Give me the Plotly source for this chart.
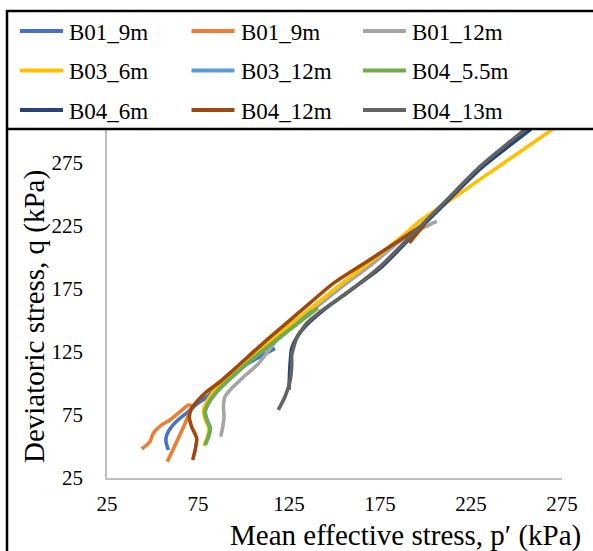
import plotly.graph_objects as go

# ---------------- data ----------------
names = ["B01_9m", "B01_9m", "B01_12m", "B03_6m", "B03_12m",
         "B04_5.5m", "B04_6m", "B04_12m", "B04_13m"]
colors = ["#4472C4", "#ED7D31", "#A5A5A5", "#FFC000", "#5B9BD5",
          "#70AD47", "#264478", "#9E480E", "#636363"]

b01_9m_a_p = [58.7, 57.4, 57.8, 60.5, 65.1, 69.7, 74.3, 79.8, 87.1, 98.1, 109.1, 117.3]
b01_9m_a_q = [47.2, 53.8, 59.1, 65.7, 72.4, 77.6, 83.7, 89.3, 98.8, 112.1, 121.3, 127.9]

b01_9m_b_p = [44.1, 48.6, 50.4, 55.1, 59.6, 65.1, 69.7, 71.5, 67.9, 63.3, 58.1]
b01_9m_b_q = [48.0, 53.8, 60.5, 67.1, 71.0, 77.6, 82.9, 82.1, 68.4, 53.8, 37.9]

b01_12m_p = [87.5, 88.6, 89.3, 89.0, 89.8, 93.5, 99.5, 108.0, 120.1, 136.5, 153.0, 170.0, 186.0, 195.0, 200.7, 204.1, 206.3]
b01_12m_q = [57.8, 65.7, 73.7, 81.6, 89.5, 96.2, 104.5, 115.5, 137.5, 156.5, 175.5, 194.0, 213.0, 221.5, 224.8, 227.4, 228.7]

b03_6m_p = [78.3, 80.2, 81.0, 79.1, 78.0, 79.7, 83.8, 89.3, 103.6, 120.1, 136.5, 153.0, 169.5, 186.0, 197.0, 213.5, 230.0, 252.0, 272.0]
b03_6m_q = [50.4, 57.5, 64.7, 71.0, 78.2, 85.3, 94.0, 102.8, 120.2, 140.1, 159.1, 178.2, 196.4, 215.5, 229.0, 245.5, 262.0, 284.0, 304.0]

b03_12m_p = [79.0, 80.9, 81.8, 80.0, 79.0, 80.9, 85.5, 91.0, 103.8, 120.3, 138.0]
b03_12m_q = [51.5, 58.0, 64.6, 71.2, 77.8, 84.5, 93.6, 101.5, 117.8, 136.7, 157.8]

b04_5_5m_p = [78.8, 80.7, 81.6, 79.8, 78.8, 80.7, 85.3, 90.8, 103.6, 120.1, 140.9]
b04_5_5m_q = [51.2, 57.8, 64.4, 71.0, 77.6, 84.3, 93.5, 101.4, 117.9, 136.9, 159.9]

b04_6m_p = [125.0, 125.5, 126.5, 130.1, 136.5, 147.5, 175.0, 193.3, 211.6, 229.9, 258.0]
b04_6m_q = [95.0, 113.3, 127.9, 138.5, 149.0, 162.3, 191.3, 217.9, 244.1, 270.2, 302.0]

b04_12m_p = [72.1, 73.4, 74.3, 71.5, 70.2, 71.5, 74.3, 79.8, 87.1, 94.4, 112.7, 131.0, 149.3, 167.7, 186.0, 195.9, 199.7, 195.9, 191.1]
b04_12m_q = [39.3, 47.2, 56.5, 65.7, 73.7, 80.3, 85.6, 93.5, 101.4, 110.7, 134.5, 157.0, 179.5, 196.7, 213.9, 223.4, 226.6, 220.2, 211.7]

b04_13m_p = [119.1, 122.8, 125.5, 126.5, 126.5, 129.2, 134.7, 141.1, 156.7, 175.0, 193.3, 211.6, 229.9, 255.0]
b04_13m_q = [79.0, 89.5, 101.4, 114.7, 122.6, 135.9, 147.8, 155.7, 171.6, 192.7, 219.2, 245.6, 272.1, 302.0]

series_p = [b01_9m_a_p, b01_9m_b_p, b01_12m_p, b03_6m_p, b03_12m_p,
            b04_5_5m_p, b04_6m_p, b04_12m_p, b04_13m_p]
series_q = [b01_9m_a_q, b01_9m_b_q, b01_12m_q, b03_6m_q, b03_12m_q,
            b04_5_5m_q, b04_6m_q, b04_12m_q, b04_13m_q]

tick_vals = [25, 75, 125, 175, 225, 275]

# ---------------- layout geometry ----------------
W, H = 593, 551
L, R, T, B = 107, 31, 130, 73
PW, PH = W - L - R, H - T - B
FONT = "'Liberation Serif', 'Times New Roman', Times, serif"


def px(x):
    return (x - L) / PW


def py(y):
    return (H - B - y) / PH


fig = go.Figure()
for p, q, n, c in zip(series_p, series_q, names, colors):
    fig.add_trace(go.Scatter(x=p, y=q, name=n, mode="lines",
                             line=dict(color=c, width=3.6, shape="spline", smoothing=0.6),
                             showlegend=False, hoverinfo="skip"))

shapes = []
annotations = []

# legend (drawn manually to match the 3-column Excel legend)
col_w, row_h = 171.5, 39.5
for i, (n, c) in enumerate(zip(names, colors)):
    r, k = divmod(i, 3)
    yy = 31 + r * row_h
    x0 = 20 + k * col_w
    shapes.append(dict(type="line", xref="paper", yref="paper",
                       x0=px(x0), x1=px(x0 + 43), y0=py(yy), y1=py(yy),
                       line=dict(color=c, width=4)))
    annotations.append(dict(text=n, xref="paper", yref="paper",
                            x=px(x0 + 47), y=py(yy + 1), xanchor="left", yanchor="middle",
                            showarrow=False, font=dict(family=FONT, size=23, color="black")))

# frame lines
shapes.append(dict(type="line", xref="paper", yref="paper", x0=px(7), x1=px(7),
                   y0=py(10), y1=py(560), line=dict(color="black", width=2.5)))
shapes.append(dict(type="line", xref="paper", yref="paper", x0=px(6), x1=px(600),
                   y0=py(11), y1=py(11), line=dict(color="black", width=2.5)))
shapes.append(dict(type="line", xref="paper", yref="paper", x0=px(6), x1=px(600),
                   y0=py(129), y1=py(129), line=dict(color="black", width=2.5)))

# axis titles
annotations.append(dict(text="Mean effective stress, p\u2032 (kPa)", xref="paper", yref="paper",
                        x=px(583), y=py(535), xanchor="right", yanchor="middle",
                        showarrow=False, font=dict(family=FONT, size=29, color="black")))
annotations.append(dict(text="Deviatoric stress, q (kPa)", xref="paper", yref="paper",
                        x=px(34), y=py(317), xanchor="center", yanchor="middle", textangle=-90,
                        showarrow=False, font=dict(family=FONT, size=29, color="black")))

fig.update_layout(
    width=W, height=H, margin=dict(l=L, r=R, t=T, b=B),
    paper_bgcolor="white", plot_bgcolor="white",
    shapes=shapes, annotations=annotations, showlegend=False,
    font=dict(family=FONT, size=21, color="black"),
)
fig.update_xaxes(range=[25, 275], tickvals=tick_vals, showgrid=False, zeroline=False,
                 showline=True, linecolor="#BFBFBF", linewidth=1.5,
                 ticks="", ticklabelstandoff=6,
                 tickfont=dict(family=FONT, size=21, color="black"))
fig.update_yaxes(range=[25, 25 + PH / 1.26], tickvals=tick_vals, showgrid=False, zeroline=False,
                 showline=True, linecolor="#BFBFBF", linewidth=1.5,
                 ticks="", ticklabelstandoff=18,
                 tickfont=dict(family=FONT, size=21, color="black"))

fig.write_html("out.html")
